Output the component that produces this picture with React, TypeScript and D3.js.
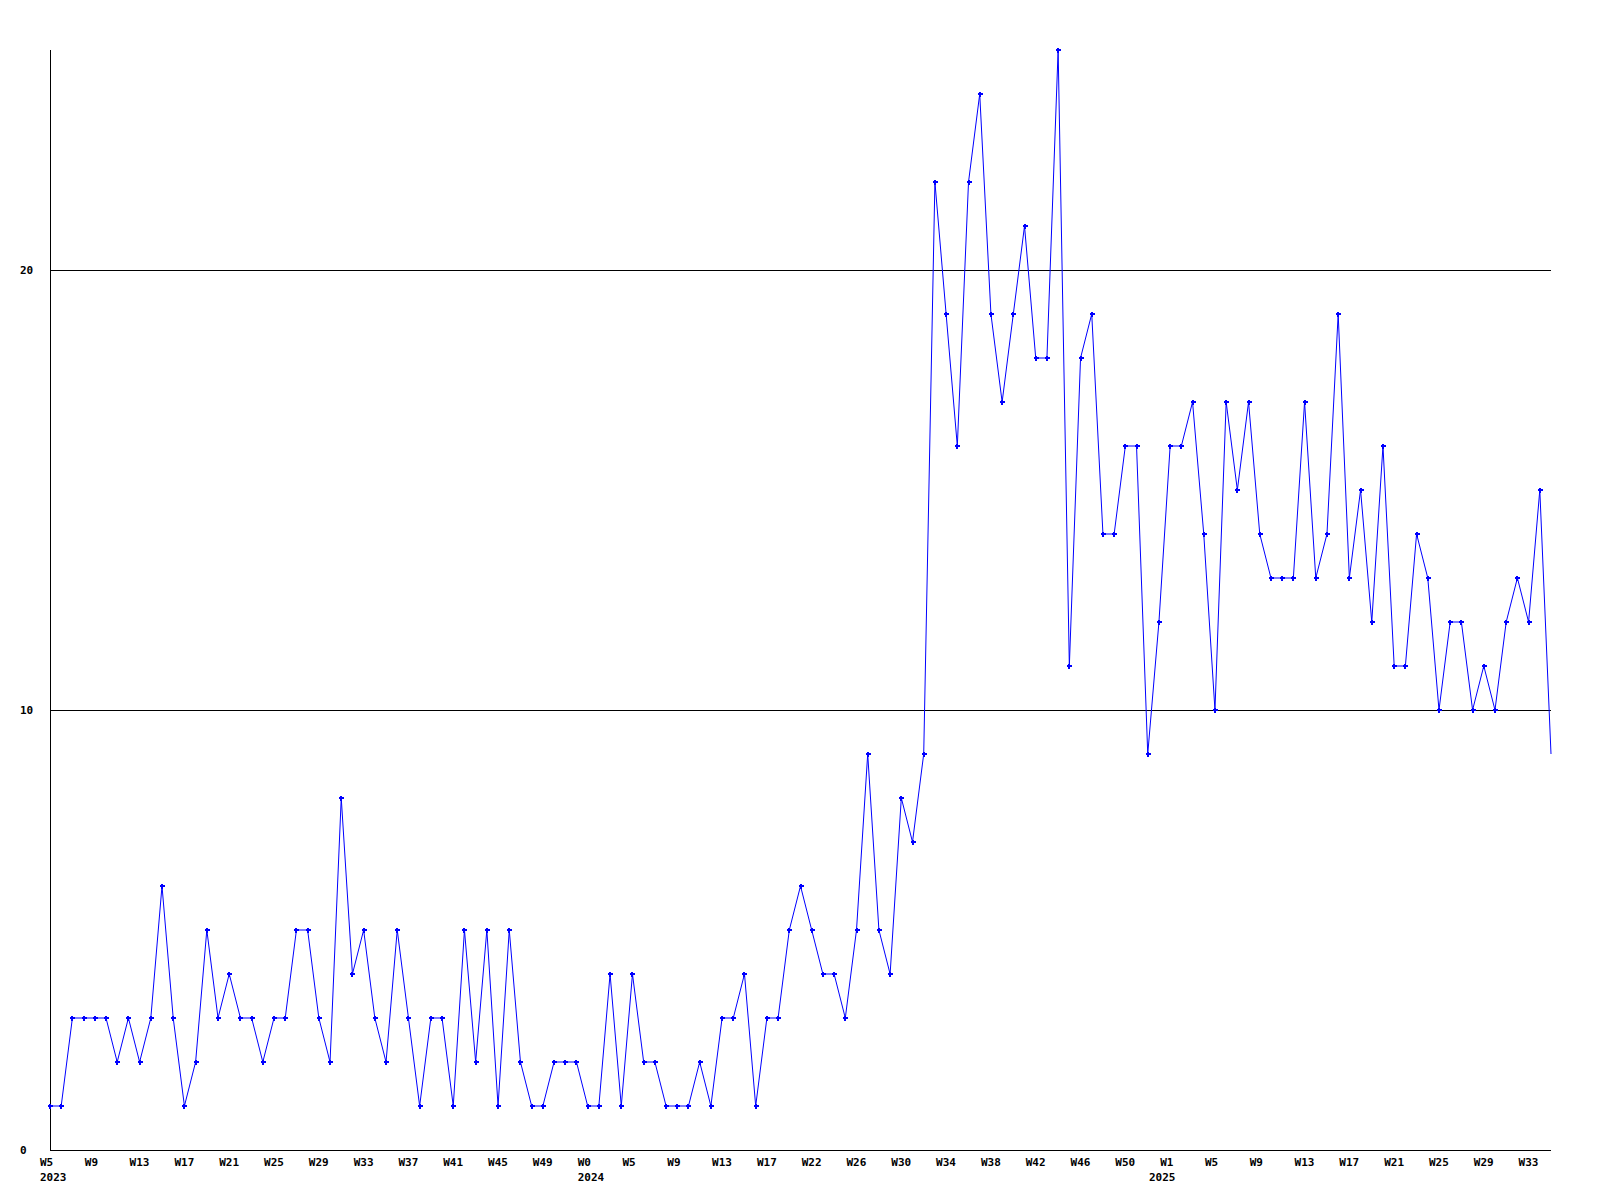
import React from "react";
import * as d3 from "d3";

const values: number[] = [
  1, 1, 3, 3, 3, 3, 2, 3, 2, 3,
  6, 3, 1, 2, 5, 3, 4, 3, 3, 2,
  3, 3, 5, 5, 3, 2, 8, 4, 5, 3,
  2, 5, 3, 1, 3, 3, 1, 5, 2, 5,
  1, 5, 2, 1, 1, 2, 2, 2, 1, 1,
  4, 1, 4, 2, 2, 1, 1, 1, 2, 1,
  3, 3, 4, 1, 3, 3, 5, 6, 5, 4,
  4, 3, 5, 9, 5, 4, 8, 7, 9, 22,
  19, 16, 22, 24, 19, 17, 19, 21, 18, 18,
  25, 11, 18, 19, 14, 14, 16, 16, 9, 12,
  16, 16, 17, 14, 10, 17, 15, 17, 14, 13,
  13, 13, 17, 13, 14, 19, 13, 15, 12, 16,
  11, 11, 14, 13, 10, 12, 12, 10, 11, 10,
  12, 13, 12, 15, 9,
];

const tickIndex: number[] = [
  0, 4, 8, 12, 16, 20, 24, 28, 32, 36, 40, 44,
  48, 52, 56, 60, 64, 68, 72, 76, 80, 84, 88, 92, 96,
  100, 104, 108, 112, 116, 120, 124, 128, 132,
];
const tickLabels: string[] = [
  "W5", "W9", "W13", "W17", "W21", "W25", "W29", "W33", "W37", "W41", "W45", "W49",
  "W0", "W5", "W9", "W13", "W17", "W22", "W26", "W30", "W34", "W38", "W42", "W46", "W50",
  "W1", "W5", "W9", "W13", "W17", "W21", "W25", "W29", "W33",
];
const yearIndex: number[] = [0, 48, 99];
const yearLabels: string[] = ["2023", "2024", "2025"];
const yTicks: number[] = [0, 10, 20];

const W = 1600;
const H = 1200;
const left = 50;
const right = 1551;
const top = 50;
const bottom = 1150;

export default function App() {
  const x = d3.scaleLinear().domain([0, values.length - 1]).range([left, right]);
  const y = d3.scaleLinear().domain([0, 25]).range([bottom, top]);
  const line = d3
    .line<number>()
    .x((_, i) => x(i))
    .y((d) => y(d));
  const font = "'DejaVu Sans Mono', monospace";
  return (
    <svg
      width={W}
      height={H}
      style={{ position: "absolute", left: 0, top: 0, background: "#fff" }}
    >
      <rect x={0} y={0} width={W} height={H} fill="#fff" />
      {yTicks
        .filter((t) => t > 0)
        .map((t) => (
          <line
            key={"g" + t}
            x1={left}
            x2={right}
            y1={Math.round(y(t)) + 0.5}
            y2={Math.round(y(t)) + 0.5}
            stroke="#000"
            strokeWidth={1}
            shapeRendering="crispEdges"
          />
        ))}
      <line
        x1={left + 0.5}
        x2={left + 0.5}
        y1={top}
        y2={bottom + 1}
        stroke="#000"
        strokeWidth={1}
        shapeRendering="crispEdges"
      />
      <line
        x1={left}
        x2={right}
        y1={bottom + 0.5}
        y2={bottom + 0.5}
        stroke="#000"
        strokeWidth={1}
        shapeRendering="crispEdges"
      />
      {yTicks.map((t) => (
        <text
          key={"y" + t}
          x={20}
          y={y(t) + 4}
          fontFamily={font}
          fontSize={11}
          fontWeight="bold"
          fill="#000"
        >
          {t}
        </text>
      ))}
      {tickIndex.map((ti, k) => (
        <text
          key={"x" + k}
          x={x(ti) - 10}
          y={1166}
          fontFamily={font}
          fontSize={11}
          fontWeight="bold"
          fill="#000"
        >
          {tickLabels[k]}
        </text>
      ))}
      {yearIndex.map((ti, k) => (
        <text
          key={"yr" + k}
          x={x(ti) - 10}
          y={1181}
          fontFamily={font}
          fontSize={11}
          fontWeight="bold"
          fill="#000"
        >
          {yearLabels[k]}
        </text>
      ))}
      <path d={line(values) || ""} fill="none" stroke="#0000ff" strokeWidth={1} />
      {values.slice(0, values.length - 1).map((v, i) => {
        const cx = Math.round(x(i));
        const cy = Math.round(y(v));
        return (
          <path
            key={"m" + i}
            d={`M${cx - 2.5},${cy}H${cx + 2.5}M${cx},${cy - 2.5}V${cy + 2.5}`}
            stroke="#0000ff"
            strokeWidth={2}
            shapeRendering="crispEdges"
          />
        );
      })}
    </svg>
  );
}
